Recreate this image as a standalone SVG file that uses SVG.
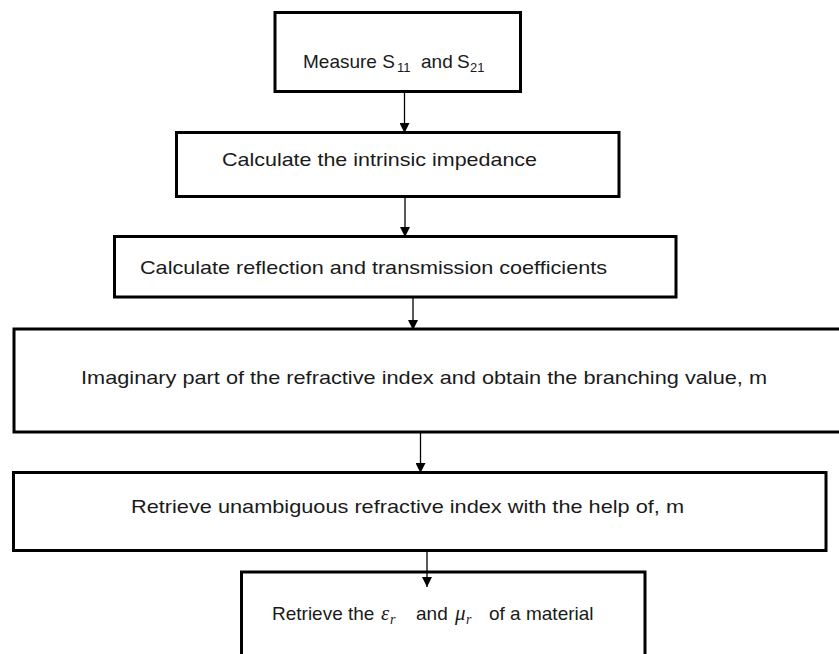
<svg xmlns="http://www.w3.org/2000/svg" width="839" height="654" viewBox="0 0 839 654">
<style>
.box{fill:#fff;stroke:#000;stroke-width:3}
.lbl{font-family:"Liberation Sans",Arial,sans-serif;font-size:19px;fill:#1a1a1a}
.sub{font-size:13px}
.math{font-family:"Liberation Serif",serif;font-style:italic;font-size:21px}
.math.sub{font-size:14px}
.conn{stroke:#000;stroke-width:1.3;fill:none}
</style>
<defs>
<marker id="arr" markerUnits="userSpaceOnUse" markerWidth="10" markerHeight="10" refX="10" refY="5" orient="auto">
<path d="M0,0 L10,5 L0,10 z" fill="#000"/>
</marker>
</defs>
<rect width="839" height="654" fill="#fff"/>
<g id="n1">
<rect class="box" x="275" y="12.5" width="245.5" height="79"/>
<text class="lbl" y="68"><tspan x="303">Measure S</tspan><tspan class="sub" x="397" y="72">11</tspan><tspan x="421" y="68">and</tspan><tspan x="457" y="68">S</tspan><tspan class="sub" x="470" y="72">21</tspan></text>
</g>
<g id="n2">
<rect class="box" x="176.5" y="132.5" width="442.5" height="64"/>
<text class="lbl" x="222" y="166" textLength="315" lengthAdjust="spacingAndGlyphs">Calculate the intrinsic impedance</text>
</g>
<g id="n3">
<rect class="box" x="114.5" y="236.5" width="561.5" height="60.5"/>
<text class="lbl" x="140" y="274" textLength="467" lengthAdjust="spacingAndGlyphs">Calculate reflection and transmission coefficients</text>
</g>
<g id="n4">
<rect class="box" x="14" y="329" width="840" height="103"/>
<text class="lbl" x="81" y="384" textLength="686" lengthAdjust="spacingAndGlyphs">Imaginary part of the refractive index and obtain the branching value, m</text>
</g>
<g id="n5">
<rect class="box" x="13.5" y="472.5" width="812.5" height="78"/>
<text class="lbl" x="131" y="513" font-size="20" textLength="553" lengthAdjust="spacingAndGlyphs">Retrieve unambiguous refractive index with the help of, m</text>
</g>
<g id="n6">
<rect class="box" x="241.5" y="572" width="403.5" height="100"/>
<text class="lbl" y="620"><tspan x="272">Retrieve the</tspan><tspan class="math" x="381">ε</tspan><tspan class="math sub" x="390" y="624">r</tspan><tspan x="416" y="620">and</tspan><tspan class="math" x="455">μ</tspan><tspan class="math sub" x="466" y="624">r</tspan><tspan x="489" y="620">of a material</tspan></text>
</g>
<g id="connectors">
<line class="conn" x1="404.5" y1="93" x2="404.5" y2="133" marker-end="url(#arr)"/>
<line class="conn" x1="405" y1="198" x2="405" y2="237" marker-end="url(#arr)"/>
<line class="conn" x1="413" y1="298" x2="413" y2="330" marker-end="url(#arr)"/>
<line class="conn" x1="420.5" y1="433" x2="420.5" y2="473" marker-end="url(#arr)"/>
<line class="conn" x1="427" y1="552" x2="427" y2="587" marker-end="url(#arr)"/>
</g>
</svg>
